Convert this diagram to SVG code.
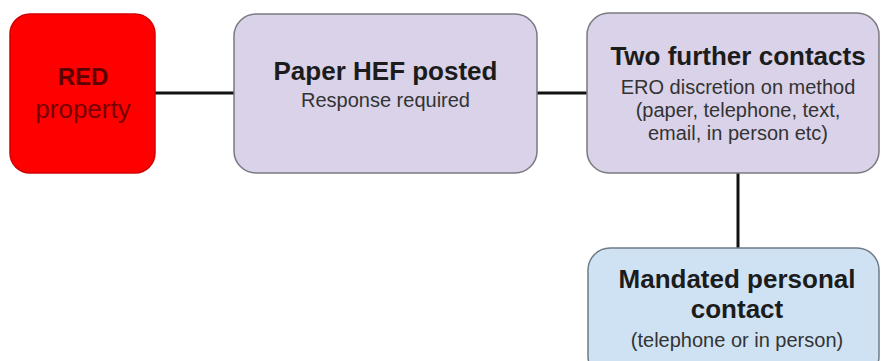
<svg xmlns="http://www.w3.org/2000/svg" width="882" height="361" viewBox="0 0 882 361">
<style>
.box{stroke-width:1.5}
.purple{fill:#d9d2e9;stroke:#7a7a80}
.blue{fill:#cfe2f3;stroke:#6f7a85}
.red{fill:#ff0000;stroke:#d40000}
.t{font-family:"Liberation Sans",Arial,sans-serif;text-anchor:middle}
.title{font-weight:bold;font-size:26px;fill:#1c1c1c}
.sub{font-size:20px;fill:#333333}
.conn{stroke:#111;stroke-width:3;fill:none}
</style>
<rect width="882" height="361" fill="#ffffff"/>
<g id="connectors">
<line class="conn" x1="155" y1="93" x2="234" y2="93"/>
<line class="conn" x1="537" y1="93" x2="587" y2="93"/>
<line class="conn" x1="738" y1="173" x2="738" y2="248"/>
</g>
<g id="red-property">
<rect class="box red" x="10" y="14" width="145" height="159" rx="20"/>
<text class="t" x="83" y="85" font-weight="bold" font-size="24" fill="#5c0000">RED</text>
<text class="t" x="83" y="118" font-size="26" fill="#780000">property</text>
</g>
<g id="paper-hef">
<rect class="box purple" x="234" y="14" width="303" height="159" rx="22"/>
<text class="t title" x="385.5" y="80">Paper HEF posted</text>
<text class="t sub" x="385.5" y="107">Response required</text>
</g>
<g id="two-further">
<rect class="box purple" x="587" y="13" width="292" height="160" rx="22"/>
<text class="t title" x="738" y="65">Two further contacts</text>
<text class="t sub" x="738" y="94">ERO discretion on method</text>
<text class="t sub" x="738" y="117">(paper, telephone, text,</text>
<text class="t sub" x="738" y="140">email, in person etc)</text>
</g>
<g id="mandated">
<rect class="box blue" x="588" y="248" width="291" height="130" rx="22"/>
<text class="t title" x="737" y="288">Mandated personal</text>
<text class="t title" x="737" y="318">contact</text>
<text class="t sub" x="737" y="347">(telephone or in person)</text>
</g>
</svg>
